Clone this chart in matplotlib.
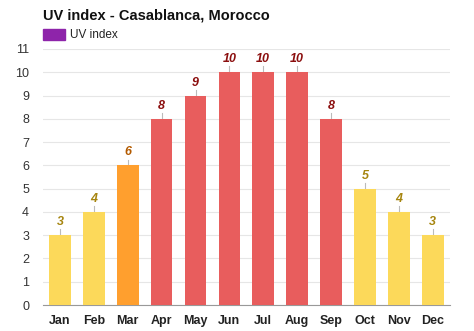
import matplotlib
matplotlib.use("Agg")
import matplotlib.pyplot as plt
from matplotlib.patches import Rectangle

months = ["Jan", "Feb", "Mar", "Apr", "May", "Jun", "Jul", "Aug", "Sep", "Oct", "Nov", "Dec"]
uv_index = [3, 4, 6, 8, 9, 10, 10, 10, 8, 5, 4, 3]

def bar_colors(v):
    # fill colour, label colour
    if v <= 5:
        return "#fcd95a", "#a6850f"
    if v <= 7:
        return "#ff9f2e", "#b35a00"
    return "#e85d5d", "#8b0e0e"

plt.rcParams["font.family"] = ["Liberation Sans", "DejaVu Sans"]

fig = plt.figure(figsize=(4.74, 3.31), dpi=100)
ax = fig.add_axes([0.0907, 0.0785, 0.858, 0.7735])

x = range(len(months))
fills = [bar_colors(v)[0] for v in uv_index]
ax.bar(x, uv_index, width=0.64, color=fills, zorder=3)

for i, v in enumerate(uv_index):
    lab_col = bar_colors(v)[1]
    ax.plot([i, i], [v, v + 0.25], color="#bbbbbb", lw=0.8, zorder=2)
    ax.text(i, v + 0.3, str(v), ha="center", va="bottom", fontsize=9,
            fontweight="bold", fontstyle="italic", color=lab_col)

ax.set_xlim(-0.5, 11.5)
ax.set_ylim(0, 11)
ax.set_yticks(range(12))
ax.set_xticks(list(x))
ax.set_xticklabels(months, fontsize=9, fontweight="bold", color="#222222")
ax.tick_params(axis="y", labelsize=9, colors="#333333", length=0, pad=10)
ax.tick_params(axis="x", length=0, pad=7)
ax.grid(axis="y", color="#e6e6e6", lw=0.8, zorder=0)
for s in ["top", "right", "left"]:
    ax.spines[s].set_visible(False)
ax.spines["bottom"].set_color("#999999")

fig.text(0.0907, 0.952, "UV index - Casablanca, Morocco", fontsize=10.5,
         fontweight="bold", va="center", ha="left", color="#111111")
fig.patches.append(Rectangle((0.0907, 0.878), 0.046, 0.033, transform=fig.transFigure,
                             color="#8e24aa", figure=fig))
fig.text(0.148, 0.894, "UV index", fontsize=8.5, va="center", ha="left", color="#222222")

fig.savefig("out.png", dpi=100)
